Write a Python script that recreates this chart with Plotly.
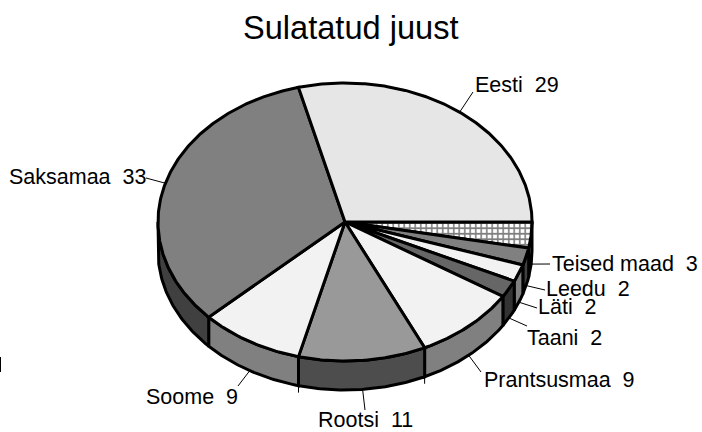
import numpy as np
import plotly.graph_objects as go

TITLE = "Sulatatud juust"
categories = ["Teised maad", "Leedu", "Läti", "Taani", "Prantsusmaa", "Rootsi", "Soome", "Saksamaa", "Eesti"]
values = [3, 2, 2, 2, 9, 11, 9, 33, 29]

top_colors = ["#ffffff", "#808080", "#f2f2f2", "#666666", "#f2f2f2", "#999999", "#f2f2f2", "#808080", "#e6e6e6"]
side_colors = ["#ffffff", "#404040", "#808080", "#333333", "#808080", "#4d4d4d", "#808080", "#404040", "#737373"]

# pie geometry, in pixels of the page
CX, CY, RX, RY, DEPTH = 345, 222, 187, 139, 29
LW = 3

# label anchors (left edge x, middle y)
label_pos = {
    "Eesti": (474, 85),
    "Saksamaa": (8, 177),
    "Soome": (145, 397),
    "Rootsi": (317, 420),
    "Prantsusmaa": (483, 380),
    "Taani": (526, 338),
    "Läti": (537, 307),
    "Leedu": (545, 289),
    "Teised maad": (551, 264),
}
leader_end = {
    "Eesti": (473, 92),
    "Saksamaa": (146, 178),
    "Soome": (238, 386),
    "Rootsi": (365, 410),
    "Prantsusmaa": (481, 372),
    "Taani": (527, 326),
    "Läti": (537, 308),
    "Leedu": (545, 290),
    "Teised maad": (550, 264),
}

fig = go.Figure()


def ell(t, dy=0.0):
    return CX + RX * np.cos(t), CY + RY * np.sin(t) + dy


fracs = np.array(values) / sum(values)
edges = np.concatenate([[0], np.cumsum(fracs)]) * 2 * np.pi


def poly(xs, ys, fill, pattern=None, width=LW):
    kw = {}
    if pattern:
        kw["fillpattern"] = dict(shape="+", fgcolor="#000000", bgcolor="#ffffff", size=5.5, solidity=0.5)
    fig.add_trace(go.Scatter(x=xs, y=ys, mode="lines", fill="toself", fillcolor=fill,
                             line=dict(color="#000000", width=width, shape="linear"),
                             hoverinfo="skip", showlegend=False, **kw))


# sides (only the front half of the rim is visible)
for i, name in enumerate(categories):
    a0, a1 = edges[i], edges[i + 1]
    lo, hi = max(a0, 0.0), min(a1, np.pi)
    if hi <= lo:
        continue
    t = np.linspace(lo, hi, 60)
    x0, y0 = ell(t)
    x1, y1 = ell(t[::-1], DEPTH)
    poly(list(x0) + list(x1) + [x0[0]], list(y0) + list(y1) + [y0[0]], side_colors[i],
         pattern=(i == 0))

# short overshoot of the dividers either side of the Rootsi wall
for a in (edges[5], edges[6]):
    bx, by = ell(a, DEPTH)
    fig.add_trace(go.Scatter(x=[bx, bx], y=[by, by + 7], mode="lines", line=dict(color="#000000", width=1),
                             hoverinfo="skip", showlegend=False))

# top faces
for i, name in enumerate(categories):
    t = np.linspace(edges[i], edges[i + 1], max(8, int(values[i] * 6)))
    x, y = ell(t)
    poly([CX] + list(x) + [CX], [CY] + list(y) + [CY], top_colors[i], pattern=(i == 0))

# labels and leaders
for i, name in enumerate(categories):
    mid = (edges[i] + edges[i + 1]) / 2
    rx, ry = ell(mid, DEPTH if np.sin(mid) > 0 else 0)
    ex, ey = leader_end[name]
    fig.add_trace(go.Scatter(x=[rx, ex], y=[ry, ey], mode="lines", line=dict(color="#000000", width=1),
                             hoverinfo="skip", showlegend=False))
    lx, ly = label_pos[name]
    fig.add_annotation(x=lx, y=ly, text=f"{name}  {values[i]}", showarrow=False, xanchor="left", yanchor="middle",
                       font=dict(family="Liberation Sans", size=21.5, color="#000000"),
                       borderpad=0, bgcolor="rgba(0,0,0,0)")

fig.add_annotation(x=351, y=27, text=TITLE, showarrow=False, xanchor="center", yanchor="middle",
                   font=dict(family="Liberation Sans", size=32.6, color="#000000"), borderpad=0)

# stray mark at the left page edge
fig.add_trace(go.Scatter(x=[0.5, 0.5], y=[357, 372], mode="lines", line=dict(color="#000000", width=1),
                         hoverinfo="skip", showlegend=False))

fig.update_layout(width=702, height=432, margin=dict(l=0, r=0, t=0, b=0), paper_bgcolor="#ffffff",
                  plot_bgcolor="#ffffff", showlegend=False,
                  xaxis=dict(range=[0, 702], visible=False, fixedrange=True),
                  yaxis=dict(range=[432, 0], visible=False, fixedrange=True))
fig.write_html("out.html", config=dict(displayModeBar=False),
               post_script="document.body.style.margin='0';")
